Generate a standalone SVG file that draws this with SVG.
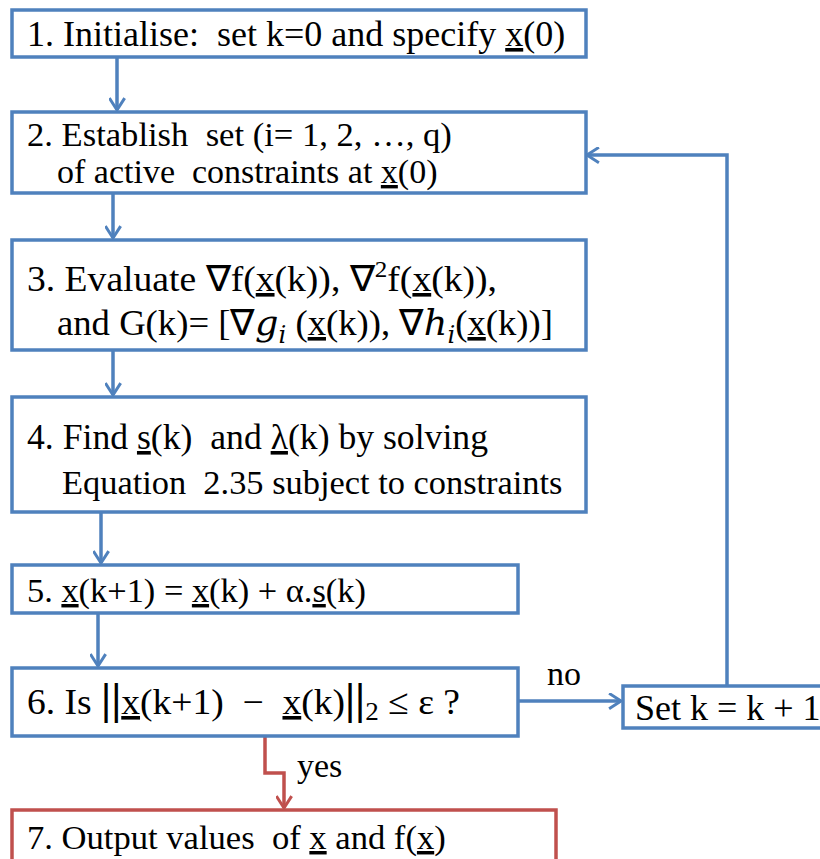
<svg xmlns="http://www.w3.org/2000/svg" width="820" height="859" viewBox="0 0 820 859">
<defs>
<style>
.box{fill:#fff;stroke:#4f81bd;stroke-width:3.5}
.rbox{fill:#fff;stroke:#c0504d;stroke-width:3.5}
.t{font-family:"Liberation Serif","Times New Roman",serif;font-size:36px;fill:#000;white-space:pre}
.m{font-family:"DejaVu Serif","Liberation Serif",serif;font-style:italic}
.u{text-decoration:underline}
.c{fill:none;stroke:#4f81bd;stroke-width:3.5}
.rc{fill:none;stroke:#c0504d;stroke-width:3.5}
</style>
<marker id="ab" viewBox="0 0 20 20" refX="18" refY="10" markerWidth="17" markerHeight="17" markerUnits="userSpaceOnUse" orient="auto">
<path d="M4,1 L18,10 L4,19" fill="none" stroke="#4f81bd" stroke-width="3.5"/>
</marker>
<marker id="ar" viewBox="0 0 20 20" refX="18" refY="10" markerWidth="17" markerHeight="17" markerUnits="userSpaceOnUse" orient="auto">
<path d="M4,1 L18,10 L4,19" fill="none" stroke="#c0504d" stroke-width="3.5"/>
</marker>
</defs>
<rect width="820" height="859" fill="#fff"/>
<g id="connectors">
<line class="c" x1="117" y1="57" x2="117" y2="110" marker-end="url(#ab)"/>
<line class="c" x1="113" y1="193" x2="113" y2="238" marker-end="url(#ab)"/>
<line class="c" x1="113" y1="350" x2="113" y2="395" marker-end="url(#ab)"/>
<line class="c" x1="101" y1="512" x2="101" y2="563" marker-end="url(#ab)"/>
<line class="c" x1="98" y1="613" x2="98" y2="666" marker-end="url(#ab)"/>
<line class="c" x1="518" y1="701" x2="621" y2="701" marker-end="url(#ab)"/>
<polyline class="c" points="727,686 727,155 587,155" marker-end="url(#ab)"/>
<polyline class="rc" points="265,736 265,773 284,773 284,808" marker-end="url(#ar)"/>
<text class="t" x="547" y="685" style="font-size:34px">no</text>
<text class="t" x="297" y="777" style="font-size:34px">yes</text>
</g>
<g id="n1">
<rect class="box" x="12" y="10" width="574" height="47"/>
<text class="t" x="27" y="46">1. Initialise:  set k=0 and specify <tspan class="u">x</tspan>(0)</text>
</g>
<g id="n2">
<rect class="box" x="12" y="112" width="574" height="81"/>
<text class="t" x="27" y="146" style="font-size:34.6px">2. Establish  set (i= 1, 2, …, q)</text>
<text class="t" x="57" y="183" style="font-size:34px">of active  constraints at <tspan class="u">x</tspan>(0)</text>
</g>
<g id="n3">
<rect class="box" x="12" y="240" width="574" height="110"/>
<text class="t" x="27" y="291" textLength="470" lengthAdjust="spacingAndGlyphs">3. Evaluate ∇f(<tspan class="u">x</tspan>(k)), ∇<tspan dy="-14" style="font-size:24px">2</tspan><tspan dy="14">f(</tspan><tspan class="u">x</tspan>(k)),</text>
<text class="t" x="57" y="335" textLength="496" lengthAdjust="spacingAndGlyphs">and G(k)= [∇<tspan class="m">g</tspan><tspan class="m" dy="8" style="font-size:24px">i</tspan><tspan dy="-8"> (</tspan><tspan class="u">x</tspan>(k)), ∇<tspan class="m">h</tspan><tspan class="m" dy="8" style="font-size:24px">i</tspan><tspan dy="-8">(</tspan><tspan class="u">x</tspan>(k))]</text>
</g>
<g id="n4">
<rect class="box" x="12" y="397" width="574" height="115"/>
<text class="t" x="27" y="449" textLength="461" lengthAdjust="spacingAndGlyphs">4. Find <tspan class="u">s</tspan>(k)  and <tspan class="u">λ</tspan>(k) by solving</text>
<text class="t" x="62" y="494" style="font-size:34.4px">Equation  2.35 subject to constraints</text>
</g>
<g id="n5">
<rect class="box" x="12" y="565" width="506" height="48"/>
<text class="t" x="27" y="602" style="font-size:34.4px">5. <tspan class="u">x</tspan>(k+1) = <tspan class="u">x</tspan>(k) + α.<tspan class="u">s</tspan>(k)</text>
</g>
<g id="n6">
<rect class="box" x="12" y="668" width="506" height="68"/>
<text class="t" x="27" y="714" textLength="433" lengthAdjust="spacingAndGlyphs">6. Is <tspan style="font-size:44px;font-weight:bold">||</tspan><tspan class="u">x</tspan>(k+1)  −  <tspan class="u">x</tspan>(k)<tspan style="font-size:44px;font-weight:bold">||</tspan><tspan dy="6" style="font-size:26px">2</tspan><tspan dy="-6"> ≤ ε ?</tspan></text>
</g>
<g id="n_set">
<rect class="box" x="623" y="686" width="210" height="42"/>
<text class="t" x="635" y="720">Set k = k + 1</text>
</g>
<g id="n7">
<rect class="rbox" x="12" y="810" width="544" height="60"/>
<text class="t" x="27" y="849" style="font-size:34.6px">7. Output values  of <tspan class="u">x</tspan> and f(<tspan class="u">x</tspan>)</text>
</g>
</svg>
